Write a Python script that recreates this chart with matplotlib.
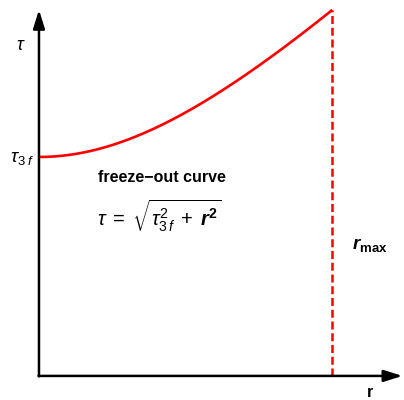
import numpy as np
import matplotlib.pyplot as plt

plt.rcParams['font.family'] = ['Liberation Sans', 'DejaVu Sans']
plt.rcParams['mathtext.fontset'] = 'custom'
plt.rcParams['mathtext.rm'] = 'Liberation Sans'
plt.rcParams['mathtext.it'] = 'Liberation Sans:italic'
plt.rcParams['mathtext.bf'] = 'Liberation Sans:bold'
plt.rcParams['mathtext.bfit'] = 'Liberation Sans:bold:italic'

# freeze-out curve tau = sqrt(tau3f^2 + r^2)
tau3f = 1.0
r_max = 1.34
r = np.linspace(0, r_max, 200)
tau = np.sqrt(tau3f**2 + r**2)

fig = plt.figure(figsize=(4.04, 4.0), dpi=100)
ax = fig.add_axes([0, 0, 1, 1])
ax.set_xlim(-0.178, 1.667)
ax.set_ylim(-0.110, 1.717)
ax.axis('off')

# axes with arrows
arrow = dict(arrowstyle='-|>,head_length=0.7,head_width=0.22', lw=1.8, color='k',
             mutation_scale=16, shrinkA=0, shrinkB=0)
ax.annotate('', xy=(1.66, 0), xytext=(-0.002, 0), arrowprops=arrow)
ax.annotate('', xy=(0, 1.672), xytext=(0, -0.002), arrowprops=arrow)

ax.plot(r, tau, color='red', lw=1.9, solid_capstyle='butt')
ax.plot([r_max, r_max], [0, tau[-1]], color='red', lw=1.8, ls=(0, (3.2, 1.5)))

ax.text(-0.085, 1.51, r'$\tau$', fontsize=13, ha='center', va='center')
ax.text(-0.022, tau3f - 0.005, r'$\tau_{3\;f}$', fontsize=13.5, ha='right', va='center')
ax.text(0.56, 0.905, 'freeze\u2212out curve', fontsize=11.5, fontweight='bold',
        ha='center', va='center')
ax.text(0.55, 0.73, r'$\tau\;=\;\sqrt{\tau^{2}_{3\,f}\;+\;\mathbfit{r}^{\mathbf{2}}}$', fontsize=14.5,
        ha='center', va='center')
ax.text(r_max + 0.09, 0.60, r'$\mathbfit{r}_{\mathbf{max}}$', fontsize=13.5, ha='left', va='center')
ax.text(1.51, -0.075, 'r', fontsize=11.5, fontweight='bold', ha='center', va='center')

fig.savefig('out.png', dpi=100)
